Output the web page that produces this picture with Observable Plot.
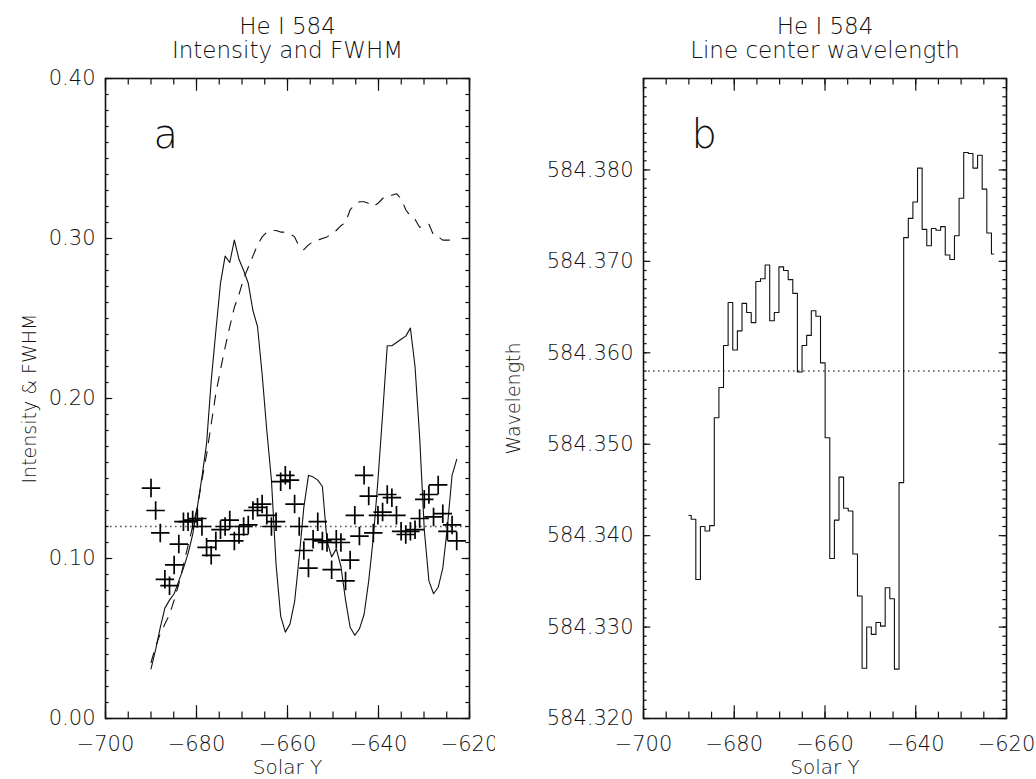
<!DOCTYPE html>
<html><head><meta charset="utf-8">
<script src="https://cdn.jsdelivr.net/npm/d3@7"></script>
<script src="https://cdn.jsdelivr.net/npm/@observablehq/plot@0.6"></script>
<style>
html,body{margin:0;padding:0;background:#fff;}
#wrap{display:flex;width:1036px;height:779px;overflow:hidden;}
</style></head><body><div id="wrap"></div>
<script>
// ---- data ----
const solarY = [-690.00,-688.98,-687.96,-686.95,-685.93,-684.91,-683.89,-682.87,-681.86,-680.84,
  -679.82,-678.80,-677.78,-676.77,-675.75,-674.73,-673.71,-672.69,-671.68,-670.66,
  -669.64,-668.62,-667.60,-666.59,-665.57,-664.55,-663.53,-662.51,-661.50,-660.48,
  -659.46,-658.44,-657.42,-656.41,-655.39,-654.37,-653.35,-652.33,-651.32,-650.30,
  -649.28,-648.26,-647.24,-646.23,-645.21,-644.19,-643.17,-642.15,-641.14,-640.12,
  -639.10,-638.08,-637.06,-636.05,-635.03,-634.01,-632.99,-631.97,-630.96,-629.94,
  -628.92,-627.90,-626.88,-625.87,-624.85,-623.83,-622.81];
const intensity = [0.031,0.043,0.057,0.069,0.074,0.078,0.086,0.094,0.103,0.115,
  0.132,0.151,0.172,0.211,0.242,0.272,0.289,0.285,0.299,0.287,
  0.280,0.272,0.255,0.245,0.215,0.180,0.149,0.096,0.064,0.054,
  0.059,0.073,0.101,0.132,0.152,0.151,0.149,0.145,0.111,0.101,
  0.106,0.095,0.074,0.057,0.052,0.056,0.065,0.086,0.113,0.149,
  0.190,0.233,0.233,0.235,0.237,0.239,0.244,0.220,0.176,0.118,
  0.086,0.078,0.082,0.094,0.120,0.152,0.162];
const dashedCurve = [0.035,0.045,0.053,0.059,0.065,0.074,0.084,0.096,0.108,0.120,
  0.132,0.149,0.165,0.184,0.203,0.218,0.232,0.245,0.257,0.265,
  0.275,0.282,0.289,0.296,0.301,0.304,0.305,0.305,0.304,0.304,
  0.303,0.301,0.295,0.293,0.296,0.298,0.299,0.300,0.301,0.303,
  0.305,0.308,0.310,0.318,0.321,0.323,0.323,0.322,0.320,0.322,
  0.325,0.327,0.327,0.328,0.325,0.318,0.314,0.312,0.307,0.308,
  0.309,0.302,0.301,0.299,0.299,0.299,0.297];
const fwhm = [0.144,0.130,0.116,0.087,0.083,0.096,0.109,0.123,0.123,0.124,
  0.125,0.120,0.107,0.102,0.111,0.118,0.120,0.124,0.111,0.115,
  0.120,0.121,0.130,0.132,0.134,0.127,0.120,0.123,0.148,0.152,
  0.149,0.134,0.120,0.105,0.094,0.112,0.123,0.111,0.110,0.093,
  0.112,0.110,0.086,0.099,0.127,0.114,0.152,0.139,0.116,0.127,
  0.129,0.140,0.138,0.127,0.117,0.115,0.117,0.118,0.125,0.137,
  0.140,0.126,0.146,0.128,0.117,0.121,0.111];
const wavelength = [584.3422,584.3418,584.3352,584.3410,584.3405,584.3411,584.3529,584.3562,584.3608,584.3655,
  584.3603,584.3624,584.3654,584.3644,584.3633,584.3678,584.3681,584.3696,584.3635,584.3644,
  584.3694,584.3690,584.3680,584.3665,584.3579,584.3608,584.3619,584.3646,584.3640,584.3589,
  584.3507,584.3375,584.3417,584.3464,584.3430,584.3427,584.3380,584.3334,584.3255,584.3300,
  584.3292,584.3305,584.3301,584.3343,584.3331,584.3254,584.3458,584.3726,584.3747,584.3765,
  584.3802,584.3735,584.3717,584.3736,584.3734,584.3738,584.3707,584.3702,584.3728,584.3769,
  584.3819,584.3818,584.3802,584.3816,584.3779,584.3731,584.3708];
const fwhmRef = 0.12;
const waveRef = 584.358;

const xMajor = [-700,-680,-660,-640,-620];
const xMinor = d3.range(-700, -619, 5);
const yMajorA = [0, 0.1, 0.2, 0.3, 0.4];
const yMinorA = d3.range(0, 40.5, 1).map(k => k / 100);
const yMajorB = [584.32, 584.33, 584.34, 584.35, 584.36, 584.37, 584.38];
const yMinorB = d3.range(0, 70.5, 1).map(k => 584.32 + k / 1000);

const leftTitle = "He I 584\nIntensity and FWHM";
const rightTitle = "He I 584\nLine center wavelength";
const xLabel = "Solar Y";

// ---- layout ----
const FONT = '"DejaVu Sans", "Liberation Sans", sans-serif';
const HEIGHT = 779, MT = 78, MB = 61, FH = HEIGHT - MT - MB;
const INK = "#111";
const fmtX = d => (d < 0 ? "\u2212" : "") + Math.abs(d);

function ticks(W, yMajor, yMinor) {
  const xL = 12.8, xl = 6.4, yL = 7.3, yl = 3.6;
  const st = {stroke: INK, strokeWidth: 1.2};
  return [
    Plot.ruleX(xMinor, {x: d => d, insetTop: FH - xl, ...st}),
    Plot.ruleX(xMinor, {x: d => d, insetBottom: FH - xl, ...st}),
    Plot.ruleX(xMajor, {x: d => d, insetTop: FH - xL, ...st}),
    Plot.ruleX(xMajor, {x: d => d, insetBottom: FH - xL, ...st}),
    Plot.ruleY(yMinor, {y: d => d, insetRight: W - yl, ...st}),
    Plot.ruleY(yMinor, {y: d => d, insetLeft: W - yl, ...st}),
    Plot.ruleY(yMajor, {y: d => d, insetRight: W - yL, ...st}),
    Plot.ruleY(yMajor, {y: d => d, insetLeft: W - yL, ...st})
  ];
}

function texts({title, ylabel, ylabelDx, letter, yMajor, yFmt}) {
  const tx = {fill: INK, fontFamily: FONT, fontWeight: 200};
  return [
    Plot.text([title], {text: d => d, frameAnchor: "top", lineAnchor: "bottom", dy: -21, fontSize: 23, lineHeight: 24 / 23, ...tx}),
    Plot.text(xMajor, {x: d => d, text: fmtX, frameAnchor: "bottom", lineAnchor: "bottom", dy: 32, fontSize: 21, ...tx}),
    Plot.text([xLabel], {text: d => d, frameAnchor: "bottom", lineAnchor: "bottom", dy: 55, fontSize: 20, ...tx}),
    Plot.text(yMajor, {y: d => d, text: yFmt, frameAnchor: "left", textAnchor: "end", lineAnchor: "middle", dx: -10, fontSize: 21, ...tx}),
    Plot.text([ylabel], {text: d => d, frameAnchor: "left", rotate: -90, textAnchor: "middle", lineAnchor: "middle", dx: ylabelDx, fontSize: 19, ...tx}),
    Plot.text([letter], {text: d => d, frameAnchor: "top-left", textAnchor: "start", lineAnchor: "bottom", dx: 48, dy: 69, fontSize: 40, ...tx})
  ];
}

const rowsA = solarY.map((x, i) => ({x, inten: intensity[i], dash: dashedCurve[i], fwhm: fwhm[i]}));
const rowsB = solarY.map((x, i) => ({x, w: wavelength[i]}));

const WL = 364;
const left = Plot.plot({
  width: 495, height: HEIGHT,
  marginLeft: 105, marginRight: 26, marginTop: MT, marginBottom: MB,
  style: {background: "#fff", fontFamily: FONT, overflow: "visible"},
  x: {domain: [-700, -620], axis: null},
  y: {domain: [0, 0.4], axis: null},
  marks: [
    Plot.ruleY([fwhmRef], {stroke: "#555", strokeWidth: 1.6, strokeDasharray: "1.6,3.4"}),
    Plot.line(rowsA, {x: "x", y: "inten", stroke: INK, strokeWidth: 1.1}),
    Plot.line(rowsA, {x: "x", y: "dash", stroke: INK, strokeWidth: 1.1, strokeDasharray: "10,9"}),
    Plot.dot(rowsA, {x: "x", y: "fwhm", symbol: "plus", r: 6, stroke: "#000", strokeWidth: 1.7}),
    ...ticks(WL, yMajorA, yMinorA),
    Plot.frame({stroke: INK, strokeWidth: 1.6}),
    ...texts({title: leftTitle, ylabel: "Intensity & FWHM", ylabelDx: -76, letter: "a", yMajor: yMajorA, yFmt: d3.format(".2f")})
  ]
});

const WR = 363;
const right = Plot.plot({
  width: 541, height: HEIGHT,
  marginLeft: 148, marginRight: 30, marginTop: MT, marginBottom: MB,
  style: {background: "#fff", fontFamily: FONT, overflow: "visible"},
  x: {domain: [-700, -620], axis: null},
  y: {domain: [584.32, 584.39], axis: null},
  marks: [
    Plot.ruleY([waveRef], {stroke: "#555", strokeWidth: 1.6, strokeDasharray: "1.6,3.4"}),
    Plot.line(rowsB, {x: "x", y: "w", curve: "step", stroke: INK, strokeWidth: 1.1}),
    ...ticks(WR, yMajorB, yMinorB),
    Plot.frame({stroke: INK, strokeWidth: 1.6}),
    ...texts({title: rightTitle, ylabel: "Wavelength", ylabelDx: -130, letter: "b", yMajor: yMajorB, yFmt: d3.format(".3f")})
  ]
});

document.getElementById("wrap").append(left, right);
</script>
</body></html>
